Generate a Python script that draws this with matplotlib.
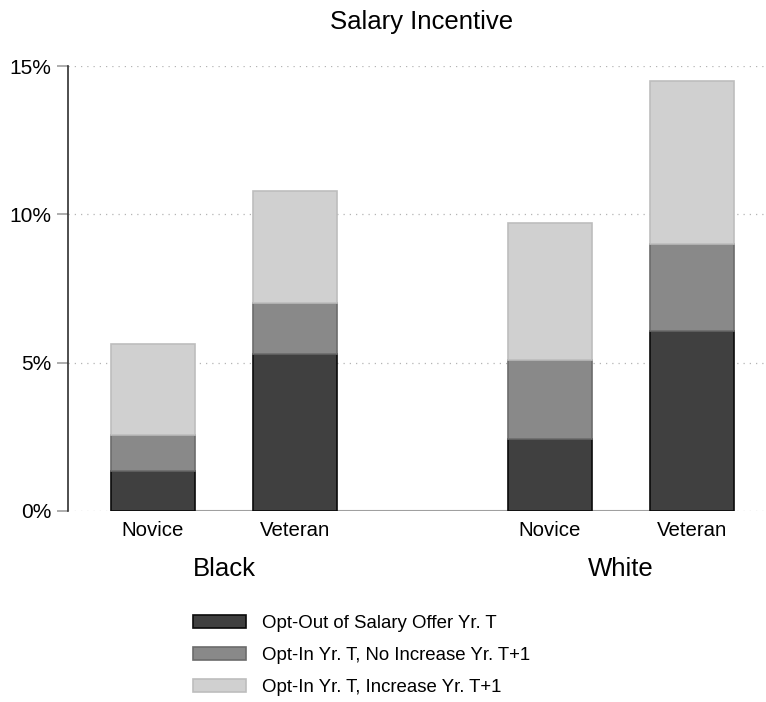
import numpy as np
import matplotlib.pyplot as plt
from matplotlib.patches import Patch

plt.rcParams['font.family'] = ['Liberation Sans', 'DejaVu Sans']

# Data (percent)
groups = ['Black', 'White']
categories = ['Novice', 'Veteran', 'Novice', 'Veteran']
opt_out = [1.35, 5.29, 2.43, 6.07]
no_increase = [1.21, 1.72, 2.66, 2.93]
increase = [3.07, 3.78, 4.62, 5.49]
series_labels = ['Opt-Out of Salary Offer Yr. T',
                 'Opt-In Yr. T, No Increase Yr. T+1',
                 'Opt-In Yr. T, Increase Yr. T+1']

x = np.array([0, 1, 2.796, 3.796])
width = 0.59

fig = plt.figure(figsize=(7.66, 7.02), dpi=100)
ax = fig.add_axes([68 / 766, 191 / 702, 1 - 68 / 766, 445 / 702])

# gridlines
for v in [0, 5, 10, 15]:
    ax.axhline(v, color='#b4b4b4', lw=0.9, ls=(0, (1, 4)), zorder=0)

# baseline between first and last bar centre
ax.plot([x[0], x[-1]], [0, 0], color='#a0a0a0', lw=1.5, zorder=1)

b1 = ax.bar(x, opt_out, width, color='#404040', edgecolor='#0a0a0a', lw=1.2, zorder=2)
bottom2 = np.array(opt_out)
b2 = ax.bar(x, no_increase, width, bottom=bottom2, color='#898989',
            edgecolor='#6c6c6c', lw=1.2, zorder=2)
bottom3 = bottom2 + np.array(no_increase)
b3 = ax.bar(x, increase, width, bottom=bottom3, color='#d0d0d0',
            edgecolor='#bdbdbd', lw=1.2, zorder=2)

ax.set_xlim(-0.599, 4.317)
ax.set_ylim(0, 15)
ax.set_yticks([0, 5, 10, 15])
ax.set_yticklabels(['0%', '5%', '10%', '15%'], fontsize=15)
ax.tick_params(axis='y', length=8, width=1.2, color='#a0a0a0', pad=4)
ax.set_xticks([])
for s in ['top', 'right', 'bottom']:
    ax.spines[s].set_visible(False)
ax.spines['left'].set_linewidth(1.2)
ax.spines['left'].set_color('#303030')

# category and group labels
for xi, c in zip(x, categories):
    ax.text(xi, -0.65, c, ha='center', va='center', fontsize=14.7)
ax.text((x[0] + x[1]) / 2, -1.95, groups[0], ha='center', va='center', fontsize=18.5)
ax.text((x[2] + x[3]) / 2, -1.95, groups[1], ha='center', va='center', fontsize=18.5)

fig.text(422 / 766, 1 - 22 / 702, 'Salary Incentive', ha='center', va='center', fontsize=18.5)

handles = [Patch(facecolor='#404040', edgecolor='#0a0a0a', lw=1.2),
           Patch(facecolor='#898989', edgecolor='#6c6c6c', lw=1.2),
           Patch(facecolor='#d0d0d0', edgecolor='#bdbdbd', lw=1.2)]
fig.legend(handles, series_labels, loc='upper left',
           bbox_to_anchor=(193 / 766, 1 - 615 / 702), frameon=False,
           fontsize=13.4, handlelength=2.85, handleheight=0.68,
           labelspacing=0.8, borderpad=0, borderaxespad=0, handletextpad=0.85)

fig.savefig('out.png', dpi=100)
